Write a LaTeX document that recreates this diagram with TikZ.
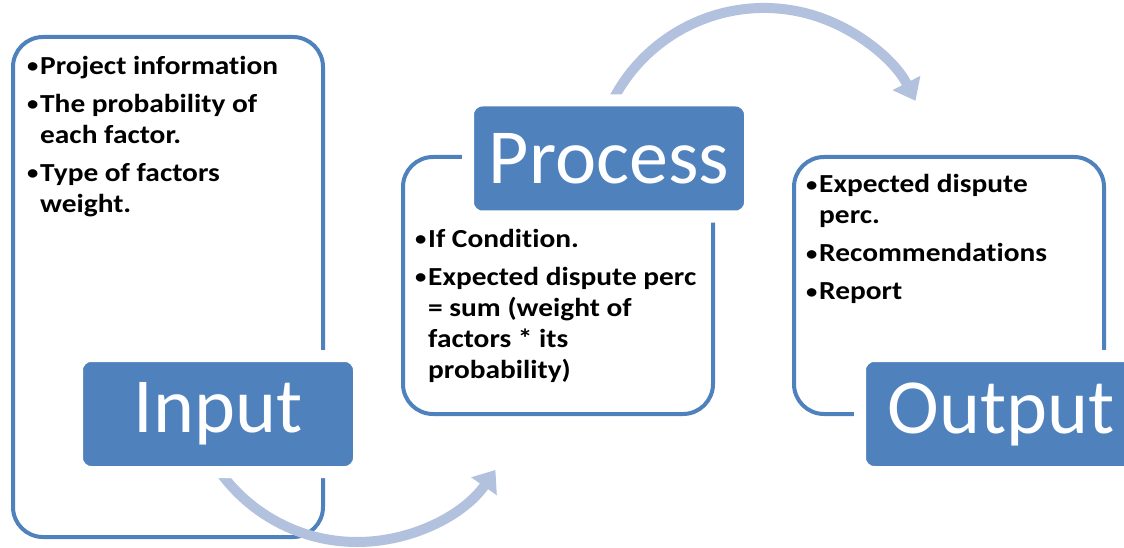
\documentclass[tikz,border=0pt]{standalone}
\usepackage{fontspec}
\setmainfont{Carlito}
\newfontfamily\itemfont{Carlito}[FakeStretch=1.13, Ligatures=NoCommon]
\usetikzlibrary{arrows.meta, positioning, calc}

\definecolor{boxblue}{RGB}{79,129,189}
\definecolor{flowblue}{RGB}{178,194,222}
\newcommand{\bul}{\makebox[13pt][l]{\raisebox{1.5pt}{\fontsize{20}{20}\selectfont\textbullet}}}
\newcommand{\ind}{\hspace*{13pt}}

\begin{document}
\begin{tikzpicture}[
    x=1pt, y=-1pt,
    outline/.style={rectangle, draw=boxblue, line width=4pt, rounded corners=30pt,
        minimum width=310pt, inner sep=0pt},
    stage/.style={rectangle, fill=boxblue, draw=white, line width=12pt, rounded corners=14pt,
        minimum width=282pt, minimum height=116pt, inner sep=0pt, text=white,
        font=\fontsize{78}{80}\selectfont},
    items/.style={anchor=north west, align=left, inner sep=0pt,
        font=\itemfont\fontsize{26}{31}\selectfont\bfseries},
    flow/.style={draw=flowblue, line width=10pt, -{Triangle[length=20pt, width=30pt]}}
]
\useasboundingbox (0,0) rectangle (1124,548);

% frames
\node[outline, minimum height=500pt] (inbox) at (168,287) {};
\node[outline, minimum height=257pt] (prbox) at (558,285.5) {};
\node[outline, minimum height=257pt] (outbox) at (949,285.5) {};

% arrows
\coordinate (inflow) at ($(357,373)+(150:169)$);
\coordinate (prflow) at ($(764,178)+(200:170)$);
\draw[flow] (inflow) arc[start angle=150, end angle=35, radius=169];
\draw[flow] (prflow) arc[start angle=200, end angle=333, radius=170];

% stage labels
\node[stage] (inlbl) at (218,414) {Input};
\node[stage] (prlbl) at (609,158.5) {Process};
\node[stage] (outlbl) at (1001,414) {Output};

% bullet texts
\node[items] (intext) at (27,56) {\bul Project information\\[7pt]
    \bul The probability of\\ \ind each factor.\\[7pt]
    \bul Type of factors\\ \ind weight.};
\node[items] (prtext) at (415,229) {\bul If Condition.\\[7pt]
    \bul Expected dispute perc\\ \ind = sum (weight of\\ \ind factors * its\\ \ind probability)};
\node[items] (outtext) at (806,174.5) {\bul Expected dispute\\ \ind perc.\\[7pt]
    \bul Recommendations\\[7pt] \bul Report};
\end{tikzpicture}
\end{document}
